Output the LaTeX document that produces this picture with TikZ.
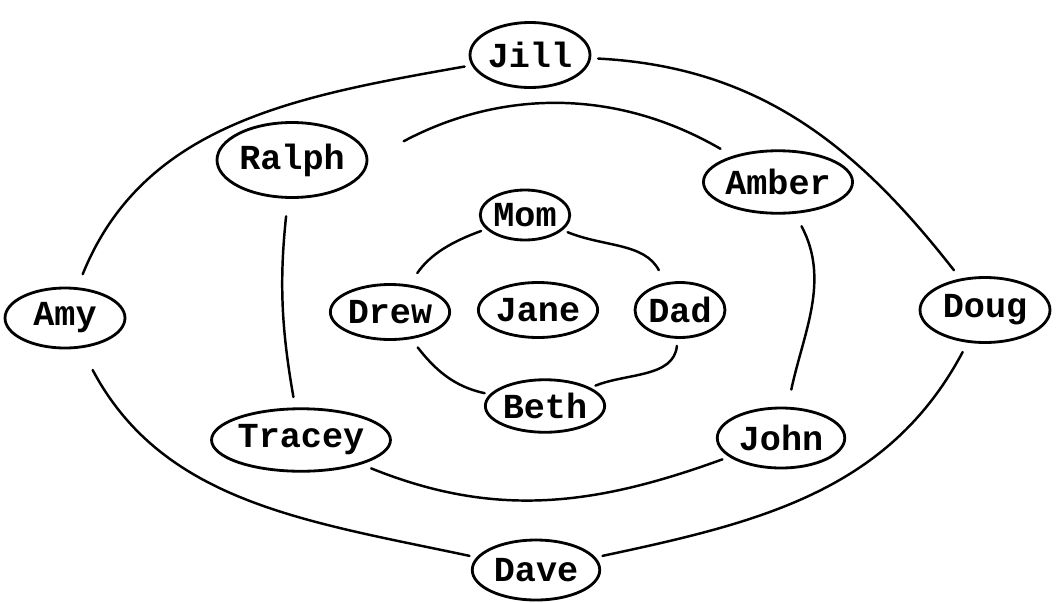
\documentclass[tikz,border=0pt]{standalone}
\usepackage{fontspec}
\setmonofont{Liberation Mono}
\usepackage{tikz}
\usetikzlibrary{shapes.geometric, calc}
\tikzset{
  person/.style={ellipse, draw=black, line width=1.6pt, inner sep=0pt,
    font=\fontsize{20}{22}\selectfont\ttfamily\bfseries},
  ring/.style={line width=1.4pt, color=black, line cap=round}
}
\begin{document}
\begin{tikzpicture}[x=0.02cm, y=-0.02cm]
  \useasboundingbox (0,0) rectangle (1058,602);

  % outer ring
  \node[person, minimum width=2.4cm, minimum height=1.3cm] (jill) at (530,55) {Jill};
  \node[person, minimum width=2.4cm, minimum height=1.2cm] (amy) at (65,318) {Amy};
  \node[person, minimum width=2.6cm, minimum height=1.3cm] (doug) at (985,310) {Doug};
  \node[person, minimum width=2.55cm, minimum height=1.2cm] (dave) at (536,570) {Dave};

  % middle ring
  \node[person, minimum width=3.0cm, minimum height=1.5cm] (ralph) at (292,160) {Ralph};
  \node[person, minimum width=2.3cm, minimum height=1.25cm] (amber) at (778,182) {Amber};
  \node[person, minimum width=2.95cm, minimum height=1.25cm] (tracey) at (301,440) {Tracey};
  \node[person, minimum width=2.55cm, minimum height=1.2cm] (john) at (781,438) {John};

  % inner ring
  \node[person, minimum width=1.7cm, minimum height=1.0cm] (mom) at (525,215) {Mom};
  \node[person, minimum width=2.2cm, minimum height=1.1cm] (drew) at (390,312) {Drew};
  \node[person, minimum width=2.15cm, minimum height=1.1cm] (jane) at (538,310) {Jane};
  \node[person, minimum width=1.8cm, minimum height=1.1cm] (dad) at (680,310) {Dad};
  \node[person, minimum width=2.25cm, minimum height=1.05cm] (beth) at (545,406) {Beth};

  % outer connections
  \draw[ring, shorten <=4pt, shorten >=6pt] (jill) to[out=-3, in=128] (doug);
  \draw[ring, shorten <=6pt, shorten >=4pt] (doug) to[out=-118, in=12] (dave);
  \draw[ring, shorten <=4pt, shorten >=14pt] (dave) to[out=168, in=-62] (amy);
  \draw[ring, shorten <=8pt, shorten >=4pt] (amy) to[out=68, in=190] (jill);

  % middle connections
  \draw[ring, shorten <=0.8cm, shorten >=8pt] (ralph.east) to[out=28, in=150] (amber);
  \draw[ring, shorten <=8pt, shorten >=10pt] (amber) to[out=-62, in=78] (john);
  \draw[ring, shorten <=4pt, shorten >=6pt] (john) to[out=200, in=-22] (tracey);
  \draw[ring, shorten <=6pt, shorten >=10pt] (tracey) to[out=100, in=-96] (ralph);

  % inner connections
  \draw[ring, shorten <=3pt, shorten >=8pt] (mom) to[out=-22, in=118] (dad);
  \draw[ring, shorten <=4pt, shorten >=3pt] (dad) to[out=-95, in=22] (beth);
  \draw[ring, shorten <=3pt, shorten >=6pt] (beth) to[out=168, in=-52] (drew);
  \draw[ring, shorten <=8pt, shorten >=3pt] (drew) to[out=55, in=200] (mom);
\end{tikzpicture}
\end{document}
